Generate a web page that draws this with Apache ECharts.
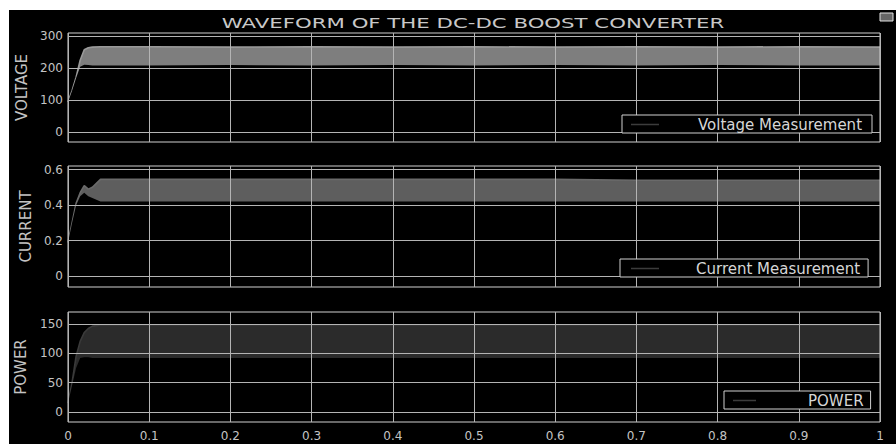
<!DOCTYPE html>
<html><head><meta charset="utf-8">
<script src="https://cdn.jsdelivr.net/npm/echarts@6/dist/echarts.min.js"></script>
<style>html,body{margin:0;padding:0;background:#fff;overflow:hidden}#c{position:absolute;left:9px;top:10px;width:887px;height:434px;background:#000}</style>
</head><body><div id="c"></div>
<script>
// time samples (s)
const time = [0, 0.005, 0.01, 0.015, 0.02, 0.025, 0.03, 0.04, 0.1, 0.2, 0.3, 0.4, 0.5, 0.6, 0.7, 0.8, 0.9, 1.0];
// band envelopes
const voltageLow  = [95, 130, 170, 205, 211, 210, 209, 209, 209, 210, 209, 210, 209, 210, 209, 210, 209, 209];
const voltageHigh = [95, 130, 172, 225, 258, 264, 266, 267, 267, 266, 267, 266, 267, 266, 267, 266, 267, 266];
const currentLow  = [0.19, 0.30, 0.40, 0.45, 0.47, 0.45, 0.44, 0.42, 0.42, 0.42, 0.42, 0.42, 0.42, 0.42, 0.42, 0.42, 0.42, 0.42];
const currentHigh = [0.19, 0.30, 0.41, 0.47, 0.51, 0.49, 0.50, 0.545, 0.545, 0.545, 0.545, 0.545, 0.545, 0.545, 0.54, 0.54, 0.54, 0.54];
const powerLow    = [15, 45, 75, 92, 93, 93, 92, 92, 92, 92, 92, 92, 92, 92, 92, 92, 92, 92];
const powerHigh   = [15, 50, 95, 120, 135, 142, 146, 148, 148, 148, 148, 148, 148, 148, 148, 148, 148, 148];
// tick labels
const voltageTicks = [0, 100, 200, 300];
const currentTicks = [0, 0.2, 0.4, 0.6];
const powerTicks   = [0, 50, 100, 150];
const titleText = 'WAVEFORM OF THE DC-DC BOOST CONVERTER';
const names = ['Voltage Measurement', 'Current Measurement', 'POWER'];
const axisNames = ['VOLTAGE', 'CURRENT', 'POWER'];

const GRID_C = '#b4b4b4';
const LBL_C = '#c4c4c4';
const FONT = '"DejaVu Sans", sans-serif';

const panels = [
  {low: voltageLow, high: voltageHigh, ticks: voltageTicks, min: -30, max: 310, top: 23, height: 109, fill: '#7e7e7e', line: '#9a9a9a', gap: 38},
  {low: currentLow, high: currentHigh, ticks: currentTicks, min: -0.06, max: 0.62, top: 156, height: 121, fill: '#5e5e5e', line: '#6a6a6a', gap: 32},
  {low: powerLow, high: powerHigh, ticks: powerTicks, min: -17, max: 170, top: 302, height: 110, fill: '#2b2b2b', line: '#3a3a3a', gap: 40}
];

const grid = [], xAxis = [], yAxis = [], series = [];
panels.forEach((p, k) => {
  grid.push({left: 59, right: 16, top: p.top, height: p.height, show: true, containLabel: false, outerBoundsMode: 'none',
    borderColor: '#d0d0d0', borderWidth: 1, backgroundColor: 'transparent', z: 4});
  xAxis.push({
    type: 'value', gridIndex: k, min: 0, max: 1, interval: 0.1, z: 5,
    axisLine: {show: false}, axisTick: {show: false},
    splitLine: {show: true, lineStyle: {color: GRID_C, width: 1}},
    axisLabel: {show: k === 2, color: LBL_C, fontFamily: FONT, fontSize: 12, margin: 8}
  });
  yAxis.push({
    type: 'value', gridIndex: k, min: p.min, max: p.max, z: 5,
    name: axisNames[k], nameLocation: 'middle', nameRotate: 90, nameGap: p.gap,
    nameTextStyle: {color: LBL_C, fontFamily: FONT, fontSize: 15},
    axisLine: {show: false},
    axisTick: {show: false, customValues: p.ticks},
    splitLine: {show: true, lineStyle: {color: GRID_C, width: 1}},
    axisLabel: {color: LBL_C, fontFamily: FONT, fontSize: 12, margin: 5, customValues: p.ticks}
  });
  // upper envelope, filled down to the axis bottom
  series.push({
    type: 'line', name: names[k], xAxisIndex: k, yAxisIndex: k,
    data: time.map((t, i) => [t, p.high[i]]), symbol: 'none', silent: true,
    lineStyle: {color: p.line, width: 1.6}, itemStyle: {color: p.line},
    areaStyle: {color: p.fill, opacity: 1, origin: 'start'}, z: 2
  });
  // lower envelope, masks the area below the band
  series.push({
    type: 'line', name: 'lower' + k, xAxisIndex: k, yAxisIndex: k,
    data: time.map((t, i) => [t, p.low[i]]), symbol: 'none', silent: true,
    lineStyle: {opacity: 0, width: 0}, itemStyle: {color: '#000'},
    areaStyle: {color: '#000', opacity: 1, origin: 'start'}, z: 3
  });
});

const legendCfg = [
  {left: 613, top: 105, pad: [2, 10, 1, 9], iw: 28, tp: 34},
  {left: 611, top: 249, pad: [2, 8, 1, 11], iw: 28, tp: 32},
  {left: 715, top: 381, pad: [2, 7, 1, 9], iw: 23, tp: 47}
];
const legend = legendCfg.map((c, k) => ({
  data: [names[k]], left: c.left, top: c.top, padding: c.pad, selectedMode: false, z: 8,
  orient: 'horizontal', icon: 'rect', itemWidth: c.iw, itemHeight: 1.5,
  itemStyle: {color: '#3c3c3c', borderWidth: 0},
  borderColor: '#d0d0d0', borderWidth: 1, backgroundColor: '#000',
  textStyle: {color: '#d6d6d6', fontFamily: FONT, fontSize: 15, lineHeight: 15, padding: [0, 0, 0, c.tp]}
}));

const chart = echarts.init(document.getElementById('c'), null, {renderer: 'svg'});
chart.setOption({
  backgroundColor: '#000',
  animation: false,
  grid, xAxis, yAxis, series, legend,
  graphic: [
    {type: 'text', x: 464, y: 13, scaleX: 1.52, silent: true,
     style: {text: titleText, font: '14px "DejaVu Sans"', fill: '#c8c8c8', textAlign: 'center', textVerticalAlign: 'middle'}},
    {type: 'rect', shape: {x: 871, y: 3, width: 13, height: 8}, silent: true,
     style: {fill: '#666', stroke: '#e0e0e0', lineWidth: 1}}
  ]
});
</script></body></html>
